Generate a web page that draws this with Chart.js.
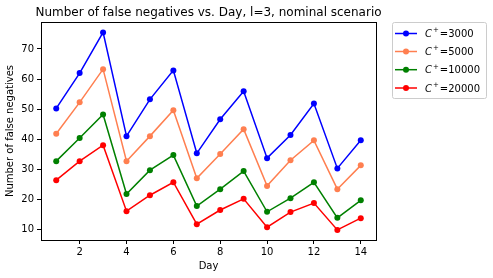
<!DOCTYPE html>
<html><head><meta charset="utf-8">
<script src="https://cdn.jsdelivr.net/npm/chart.js@4.4.1/dist/chart.umd.min.js"></script>
<style>html,body{margin:0;padding:0;background:#fff;}#wrap{width:493px;height:278px;}</style>
</head><body><div id="wrap"><canvas id="c" width="493" height="278"></canvas></div>
<script>
const days = [1,2,3,4,5,6,7,8,9,10,11,12,13,14];
const seriesLabels = ["3000","5000","10000","20000"];
const c3000  = [50.3,62.0,75.5,41.1,53.3,62.9,35.4,46.7,56.0,33.8,41.5,51.9,30.4,39.7];
const c5000  = [41.9,52.3,63.3,32.8,41.1,49.7,27.1,35.2,43.4,24.6,33.1,39.7,23.5,31.4];
const c10000 = [32.8,40.5,48.3,21.9,29.8,34.8,17.9,23.5,29.5,16.0,20.5,25.8,14.0,19.8];
const c20000 = [26.5,32.8,38.1,16.2,21.5,25.8,11.9,16.6,20.3,10.9,15.9,18.9,10.0,13.9];
const xTicks = [2,4,6,8,10,12,14];
const yTicks = [10,20,30,40,50,60,70];
const colors = ["#0000ff","#ff7f50","#008000","#ff0000"];
const allSeries = [c3000,c5000,c10000,c20000];
const titleText = "Number of false negatives vs. Day, l=3, nominal scenario";

const FONT = "'DejaVu Sans', sans-serif";
const datasets = allSeries.map((s,i)=>({
  label: "C\u207A=" + seriesLabels[i],
  data: s.map((v,j)=>({x:days[j], y:v})),
  borderColor: colors[i], backgroundColor: colors[i],
  pointBackgroundColor: colors[i], pointBorderColor: colors[i],
  borderWidth: 1.5, pointRadius: 3, pointBorderWidth: 0, pointHoverRadius: 3,
  tension: 0, fill: false
}));

const framePlugin = {
  id: 'frame',
  afterDraw(chart) {
    const ctx = chart.ctx, a = chart.chartArea;
    ctx.save();
    ctx.strokeStyle = '#000'; ctx.lineWidth = 1;
    ctx.strokeRect(Math.round(a.left)+0.5, Math.round(a.top)+0.5, Math.round(a.right-a.left), Math.round(a.bottom-a.top));
    // title
    ctx.fillStyle = '#000';
    ctx.font = "12px " + FONT;
    ctx.textAlign = 'center'; ctx.textBaseline = 'middle';
    ctx.fillText(titleText, (a.left + a.right) / 2, 13);
    // legend
    const bx = 392.5, by = 22.5, bw = 94, bh = 76;
    ctx.fillStyle = 'rgba(255,255,255,0.8)';
    ctx.strokeStyle = '#cccccc'; ctx.lineWidth = 1;
    const r = 2;
    ctx.beginPath();
    ctx.moveTo(bx+r,by); ctx.lineTo(bx+bw-r,by); ctx.quadraticCurveTo(bx+bw,by,bx+bw,by+r);
    ctx.lineTo(bx+bw,by+bh-r); ctx.quadraticCurveTo(bx+bw,by+bh,bx+bw-r,by+bh);
    ctx.lineTo(bx+r,by+bh); ctx.quadraticCurveTo(bx,by+bh,bx,by+bh-r);
    ctx.lineTo(bx,by+r); ctx.quadraticCurveTo(bx,by,bx+r,by); ctx.closePath();
    ctx.fill(); ctx.stroke();
    const rows = [33.5, 51.5, 69.7, 88.0];
    chart.data.datasets.forEach((ds,i)=>{
      const y = rows[i];
      ctx.strokeStyle = ds.borderColor; ctx.lineWidth = 1.5;
      ctx.beginPath(); ctx.moveTo(395, y); ctx.lineTo(417, y); ctx.stroke();
      ctx.fillStyle = ds.borderColor;
      ctx.beginPath(); ctx.arc(406, y, 3, 0, Math.PI*2); ctx.fill();
      ctx.fillStyle = '#000';
      ctx.textBaseline = 'middle'; ctx.textAlign = 'left';
      ctx.font = "italic 10px " + FONT;
      let x = 425;
      ctx.fillText("C", x, y+1);
      x += ctx.measureText("C").width + 1;
      ctx.font = "7px " + FONT;
      ctx.fillText("+", x, y-3);
      x += ctx.measureText("+").width + 1;
      ctx.font = "10px " + FONT;
      ctx.fillText("=" + seriesLabels[i], x, y+1);
    });
    ctx.restore();
  }
};

new Chart(document.getElementById('c'), {
  type: 'line',
  data: { datasets },
  options: {
    responsive: false, animation: false, devicePixelRatio: 1,
    layout: { padding: { left: 0, right: 117, top: 22, bottom: 0 } },
    plugins: {
      legend: { display: false },
      tooltip: { enabled: false },
      title: { display: false }
    },
    scales: {
      x: {
        type: 'linear', min: 0.35, max: 14.65,
        afterBuildTicks: s => { s.ticks = xTicks.map(v=>({value:v})); },
        afterFit: s => { s.height = 38; },
        ticks: { color: '#000', font: { family: FONT, size: 10 }, padding: 2, maxRotation: 0, autoSkip: false },
        grid: { display: true, drawOnChartArea: false, drawTicks: true, tickLength: 4, color: '#000', tickColor: '#000' },
        border: { display: true, color: '#000', width: 1 },
        title: { display: true, text: 'Day', color: '#000', font: { family: FONT, size: 10 }, padding: { top: 0, bottom: 6 } }
      },
      y: {
        type: 'linear', min: 6.65, max: 78.95,
        afterBuildTicks: s => { s.ticks = yTicks.map(v=>({value:v})); },
        afterFit: s => { s.width = 41; },
        ticks: { color: '#000', font: { family: FONT, size: 10 }, padding: 3, autoSkip: false },
        grid: { display: true, drawOnChartArea: false, drawTicks: true, tickLength: 4, color: '#000', tickColor: '#000' },
        border: { display: true, color: '#000', width: 1 },
        title: { display: true, text: 'Number of false negatives', color: '#000', font: { family: FONT, size: 10 }, padding: { top: 4.5, bottom: 0 } }
      }
    }
  },
  plugins: [framePlugin]
});
</script></body></html>
